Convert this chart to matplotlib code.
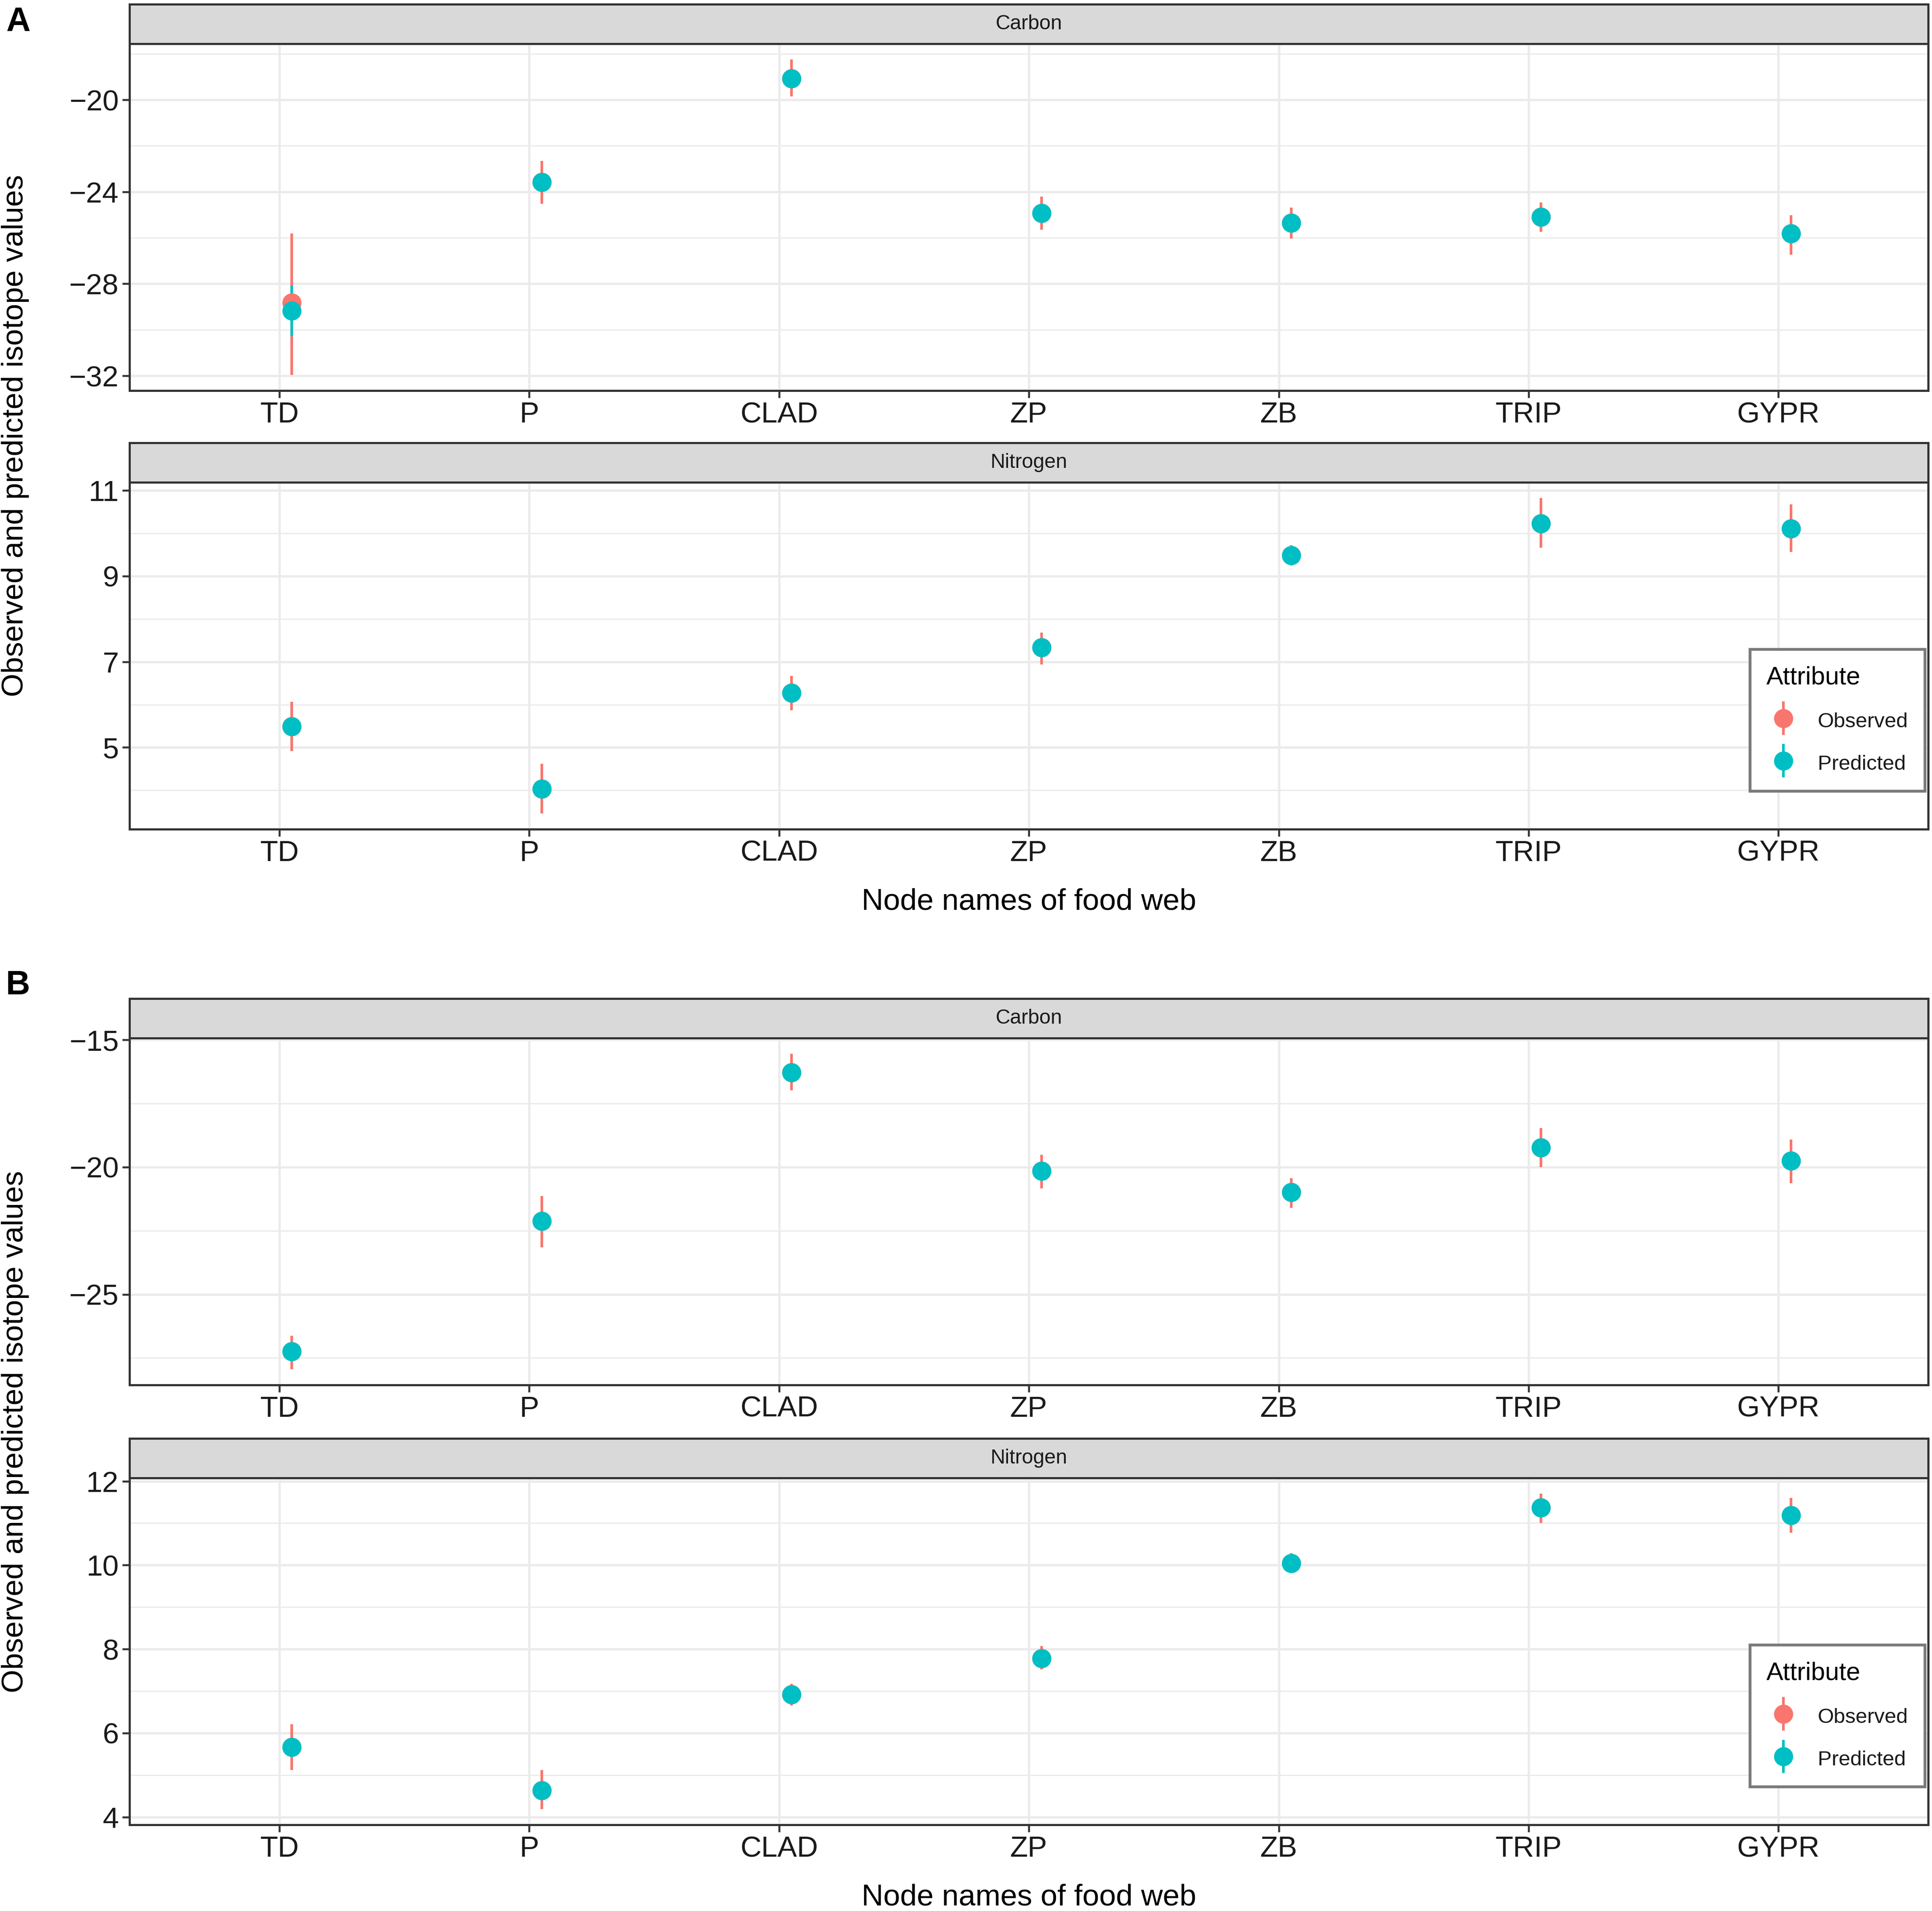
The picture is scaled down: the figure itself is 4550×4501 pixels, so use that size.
import numpy as np
import matplotlib
matplotlib.use("Agg")
import matplotlib.pyplot as plt
from matplotlib.container import ErrorbarContainer
from matplotlib.legend_handler import HandlerErrorbar

plt.rcParams['font.family'] = ['Liberation Sans', 'DejaVu Sans']

nodes = ["TD", "P", "CLAD", "ZP", "ZB", "TRIP", "GYPR"]
attributes = ["Observed", "Predicted"]
colors = {"Observed": "#F8766D", "Predicted": "#00BFC4"}

# panel A, carbon
a_c_obs = [-28.83, -23.59, -19.08, -24.92, -25.35, -25.09, -25.81]
a_c_obs_lo = [-31.96, -24.53, -19.86, -25.64, -26.03, -25.75, -26.73]
a_c_obs_hi = [-25.81, -22.65, -18.25, -24.21, -24.69, -24.46, -25.03]
a_c_pred = [-29.18, -23.59, -19.08, -24.92, -25.35, -25.09, -25.81]
a_c_pred_lo = [-30.29, -23.84, -19.33, -25.17, -25.60, -25.34, -26.06]
a_c_pred_hi = [-28.07, -23.34, -18.83, -24.67, -25.10, -24.84, -25.56]

# panel A, nitrogen
a_n_obs = [5.49, 4.03, 6.27, 7.33, 9.48, 10.23, 10.11]
a_n_obs_lo = [4.92, 3.46, 5.87, 6.94, 9.25, 9.66, 9.56]
a_n_obs_hi = [6.06, 4.62, 6.67, 7.68, 9.72, 10.82, 10.67]
a_n_pred = [5.49, 4.03, 6.27, 7.33, 9.48, 10.23, 10.11]
a_n_pred_lo = [5.34, 3.88, 6.12, 7.18, 9.33, 10.08, 9.96]
a_n_pred_hi = [5.64, 4.18, 6.42, 7.48, 9.63, 10.38, 10.26]

# panel B, carbon
b_c_obs = [-27.25, -22.12, -16.28, -20.15, -20.98, -19.24, -19.76]
b_c_obs_lo = [-27.94, -23.16, -16.98, -20.83, -21.61, -20.01, -20.63]
b_c_obs_hi = [-26.62, -21.14, -15.55, -19.52, -20.44, -18.47, -18.92]
b_c_pred = [-27.25, -22.12, -16.28, -20.15, -20.98, -19.24, -19.76]
b_c_pred_lo = [-27.50, -22.37, -16.53, -20.40, -21.23, -19.49, -20.01]
b_c_pred_hi = [-27.00, -21.87, -16.03, -19.90, -20.73, -18.99, -19.51]

# panel B, nitrogen
b_n_obs = [5.67, 4.63, 6.92, 7.78, 10.04, 11.37, 11.19]
b_n_obs_lo = [5.12, 4.19, 6.66, 7.52, 9.81, 11.00, 10.77]
b_n_obs_hi = [6.21, 5.12, 7.17, 8.07, 10.29, 11.70, 11.60]
b_n_pred = [5.67, 4.63, 6.92, 7.78, 10.04, 11.37, 11.19]
b_n_pred_lo = [5.52, 4.48, 6.77, 7.63, 9.89, 11.22, 11.04]
b_n_pred_hi = [5.82, 4.78, 7.07, 7.93, 10.19, 11.52, 11.34]

a_c_ticks = [-32, -28, -24, -20]
a_c_minor = [-30, -26, -22, -18]
a_n_ticks = [5, 7, 9, 11]
a_n_minor = [4, 6, 8, 10]
b_c_ticks = [-25, -20, -15]
b_c_minor = [-27.5, -22.5, -17.5]
b_n_ticks = [4, 6, 8, 10, 12]
b_n_minor = [5, 7, 9, 11]

fig = plt.figure(figsize=(4550 / 300, 4501 / 300), dpi=300)

LEFT, WIDTH, H, STRIP_H = 0.067, 0.9311, 0.1815, 0.0206
GRID = "#EBEBEB"
DARK = "#333333"


def facet(bottom, strip, obs, obs_lo, obs_hi, pred, pred_lo, pred_hi,
          ticks, minor, legend=False):
    ax = fig.add_axes([LEFT, bottom, WIDTH, H])
    x = np.arange(1, len(nodes) + 1) + 0.05
    handles = []
    for name, c, lo, hi in [("Observed", obs, obs_lo, obs_hi),
                            ("Predicted", pred, pred_lo, pred_hi)]:
        c, lo, hi = np.array(c), np.array(lo), np.array(hi)
        h = ax.errorbar(x, c, yerr=[c - lo, hi - c], fmt="o", ms=9.8,
                        color=colors[name], elinewidth=1.5, capsize=0,
                        label=name, zorder=3)
        handles.append(h)
    allv = np.concatenate([obs_lo, obs_hi, pred_lo, pred_hi])
    pad = 0.05 * (allv.max() - allv.min())
    ax.set_ylim(allv.min() - pad, allv.max() + pad)
    ax.set_xlim(0.4, len(nodes) + 0.6)
    ax.set_xticks(np.arange(1, len(nodes) + 1))
    ax.set_xticklabels(nodes)
    ax.set_yticks(ticks)
    ax.set_yticks(minor, minor=True)
    ax.set_axisbelow(True)
    ax.grid(which="major", color=GRID, lw=1.3)
    ax.grid(which="minor", axis="y", color=GRID, lw=0.7)
    ax.tick_params(which="major", length=4, width=1.1, color=DARK,
                   labelsize=16.5, labelcolor="#1a1a1a", pad=2)
    ax.tick_params(which="minor", length=0)
    for s in ax.spines.values():
        s.set_color(DARK)
        s.set_linewidth(1.2)

    sax = fig.add_axes([LEFT, bottom + H, WIDTH, STRIP_H])
    sax.set_facecolor("#D9D9D9")
    sax.set_xticks([])
    sax.set_yticks([])
    for s in sax.spines.values():
        s.set_color(DARK)
        s.set_linewidth(1.2)
    sax.text(0.5, 0.5, strip, ha="center", va="center", fontsize=11.5,
             color="#1A1A1A", transform=sax.transAxes)

    if legend:
        leg = ax.legend(handles=handles, labels=attributes, title="Attribute",
                        loc="lower right", bbox_to_anchor=(0.998, 0.11),
                        fontsize=11.8, title_fontsize=14.3, frameon=True,
                        fancybox=False, edgecolor="#7A7A7A", framealpha=1,
                        alignment="left", handlelength=1.6, handleheight=1.3,
                        handletextpad=0.85, labelspacing=0.95, borderpad=0.8,
                        borderaxespad=0,
                        handler_map={ErrorbarContainer:
                                     HandlerErrorbar(yerr_size=0.8)})
        leg.get_frame().set_linewidth(1.6)
        for t in leg.get_texts():
            t.set_color("#1a1a1a")
    return ax


facet(0.7956, "Carbon", a_c_obs, a_c_obs_lo, a_c_obs_hi,
      a_c_pred, a_c_pred_lo, a_c_pred_hi, a_c_ticks, a_c_minor)
facet(0.5661, "Nitrogen", a_n_obs, a_n_obs_lo, a_n_obs_hi,
      a_n_pred, a_n_pred_lo, a_n_pred_hi, a_n_ticks, a_n_minor, legend=True)
facet(0.2753, "Carbon", b_c_obs, b_c_obs_lo, b_c_obs_hi,
      b_c_pred, b_c_pred_lo, b_c_pred_hi, b_c_ticks, b_c_minor)
facet(0.0451, "Nitrogen", b_n_obs, b_n_obs_lo, b_n_obs_hi,
      b_n_pred, b_n_pred_lo, b_n_pred_hi, b_n_ticks, b_n_minor, legend=True)

ylab = "Observed and predicted isotope values"
xlab = "Node names of food web"
fig.text(0.008, 0.772, ylab, rotation=90, ha="center", va="center", fontsize=17)
fig.text(0.008, 0.2508, ylab, rotation=90, ha="center", va="center", fontsize=17)
fig.text(0.5325, 0.528, xlab, ha="center", va="center", fontsize=17)
fig.text(0.5325, 0.0071, xlab, ha="center", va="center", fontsize=17)
fig.text(0.003, 0.9884, "A", ha="left", va="center", fontsize=19, weight="bold")
fig.text(0.003, 0.4842, "B", ha="left", va="center", fontsize=19, weight="bold")

fig.savefig("out.png", dpi=300)
plt.close(fig)
